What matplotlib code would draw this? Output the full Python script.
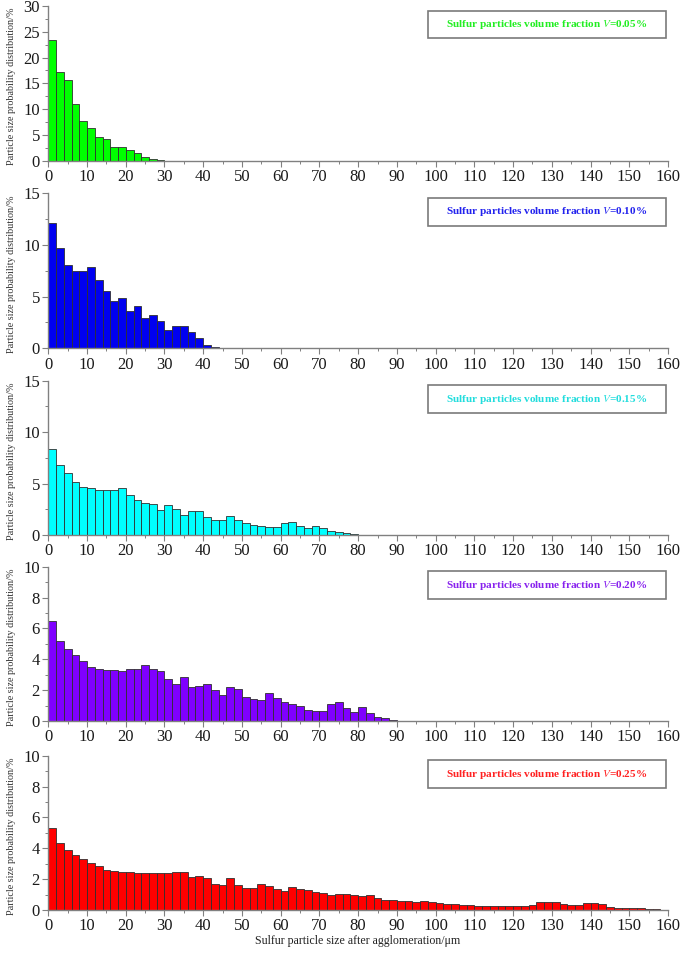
import numpy as np
import matplotlib
matplotlib.use("Agg")
import matplotlib.pyplot as plt
from matplotlib.patches import Rectangle
from matplotlib.ticker import MultipleLocator

plt.rcParams['font.family'] = ['Liberation Serif', 'DejaVu Serif']
plt.rcParams['mathtext.fontset'] = 'stix'

# bin width 2 um, bins start at 0
bin_w = 2

v005 = [23.4, 17.2, 15.6, 10.9, 7.7, 6.3, 4.6, 4.3, 2.6, 2.65, 2.1, 1.5, 0.8, 0.3, 0.1]
v010 = [12.1, 9.75, 8.05, 7.5, 7.5, 7.85, 6.65, 5.5, 4.6, 4.85, 3.6, 4.1, 2.9, 3.2, 2.6,
        1.8, 2.2, 2.15, 1.55, 0.95, 0.3, 0.1]
v015 = [8.4, 6.8, 6.0, 5.2, 4.7, 4.55, 4.4, 4.4, 4.4, 4.6, 3.9, 3.45, 3.1, 3.05, 2.4,
        2.9, 2.5, 1.9, 2.35, 2.3, 1.75, 1.5, 1.5, 1.85, 1.45, 1.2, 1.0, 0.85, 0.75, 0.75,
        1.2, 1.3, 0.85, 0.65, 0.85, 0.65, 0.35, 0.25, 0.15, 0.05]
v020 = [6.48, 5.2, 4.67, 4.28, 3.87, 3.5, 3.35, 3.28, 3.28, 3.24, 3.35, 3.39, 3.6, 3.35,
        3.24, 2.74, 2.42, 2.85, 2.18, 2.27, 2.4, 2.0, 1.68, 2.18, 2.05, 1.58, 1.4, 1.36,
        1.84, 1.47, 1.21, 1.08, 0.97, 0.73, 0.65, 0.65, 1.08, 1.25, 0.86, 0.6, 0.89, 0.54,
        0.28, 0.17, 0.09]
v025 = [5.33, 4.32, 3.87, 3.54, 3.33, 3.02, 2.83, 2.61, 2.5, 2.48, 2.44, 2.38, 2.38, 2.38,
        2.42, 2.38, 2.48, 2.48, 2.14, 2.2, 2.1, 1.66, 1.6,
        2.07, 1.6, 1.43, 1.45, 1.7, 1.53, 1.34, 1.23, 1.47, 1.36, 1.28, 1.19, 1.1, 1.0,
        1.06, 1.06, 0.97, 0.88, 0.95, 0.78, 0.67, 0.63, 0.58, 0.58, 0.54, 0.58, 0.5, 0.43,
        0.39,
        0.37, 0.32, 0.32, 0.28, 0.28, 0.28, 0.28, 0.28, 0.28, 0.28, 0.32, 0.54, 0.54, 0.54,
        0.39, 0.32, 0.32, 0.48, 0.48, 0.39, 0.17, 0.15, 0.15, 0.11, 0.11, 0.06, 0.04, 0.02]

series = [v005, v010, v015, v020, v025]
labels = ["0.05%", "0.10%", "0.15%", "0.20%", "0.25%"]
bar_colors = ['#00ff00', '#0000f0', '#00ffff', '#7f00ff', '#ff0000']
text_colors = ['#22ee22', '#2222ee', '#22dddd', '#8822ee', '#ff2222']
y_max = [30, 15, 15, 10, 10]
y_step = [5, 5, 5, 2, 2]

fig = plt.figure(figsize=(6.85, 9.58), dpi=100)
W, H = 685.0, 958.0
left_px, right_px = 48.3, 668.0
panels_px = [(6, 160.7), (193.3, 348.3), (380.7, 535), (566.7, 721), (755.7, 910)]

for i, (vals, lab) in enumerate(zip(series, labels)):
    top, bot = panels_px[i]
    ax = fig.add_axes([left_px / W, 1 - bot / H, (right_px - left_px) / W, (bot - top) / H])
    x = np.arange(len(vals)) * bin_w
    ax.bar(x, vals, width=bin_w, align='edge', color=bar_colors[i],
           edgecolor='#303030', linewidth=0.6, zorder=2)
    ax.set_xlim(0, 160)
    ax.set_ylim(0, y_max[i])
    ax.xaxis.set_major_locator(MultipleLocator(10))
    ax.xaxis.set_minor_locator(MultipleLocator(5))
    ax.yaxis.set_major_locator(MultipleLocator(y_step[i]))
    ax.yaxis.set_minor_locator(MultipleLocator(y_step[i] / 2))
    for s in ['top', 'right']:
        ax.spines[s].set_visible(False)
    for s in ['left', 'bottom']:
        ax.spines[s].set_color('#808080')
        ax.spines[s].set_linewidth(1.0)
    ax.tick_params(which='major', direction='out', length=4, width=0.8, color='#808080',
                   labelsize=12, labelcolor='#1a1a1a', pad=2)
    ax.tick_params(which='minor', direction='out', length=2, width=0.7, color='#808080')
    ax.set_ylabel("Particle size probability distribution/%", fontsize=7.3,
                  color='#333333', labelpad=4)
    ax.yaxis.set_label_coords(-0.052, 0.48)

    # legend-like box
    ax.add_patch(Rectangle((0.613, 0.79), 0.384, 0.18, transform=ax.transAxes,
                           facecolor='white', edgecolor='#7a7a7a', linewidth=1.2,
                           clip_on=False, zorder=3))
    ax.text(0.805, 0.88, "Sulfur particles volume fraction $V$=" + lab,
            transform=ax.transAxes, ha='center', va='center', fontsize=8.1,
            color=text_colors[i], fontweight='bold', zorder=4)

fig.text(358 / W, 1 - 941 / H, "Sulfur particle size after agglomeration/\u03bcm",
         ha='center', va='center', fontsize=8.6, color='#222222')

fig.savefig("out.png", dpi=100)
